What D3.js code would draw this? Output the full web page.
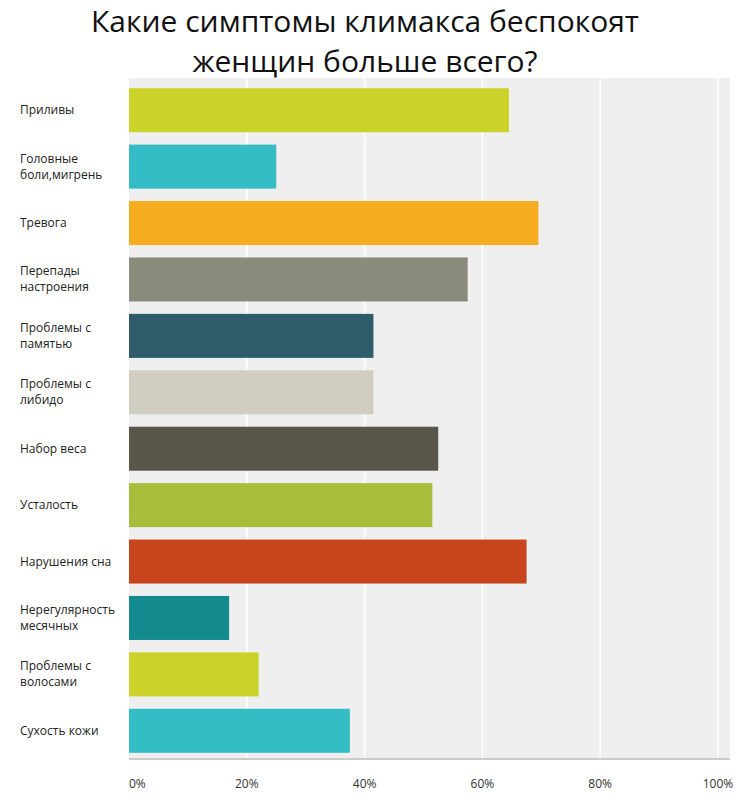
<!DOCTYPE html>
<html><head><meta charset="utf-8">
<script src="https://cdn.jsdelivr.net/npm/d3@7"></script>
<style>body{margin:0;background:#fff}</style></head>
<body><svg id="c" width="750" height="805"></svg>
<script>
const categories = [["Приливы"],["Головные","боли,мигрень"],["Тревога"],["Перепады","настроения"],["Проблемы с","памятью"],["Проблемы с","либидо"],["Набор веса"],["Усталость"],["Нарушения сна"],["Нерегулярность","месячных"],["Проблемы с","волосами"],["Сухость кожи"]];
const values = [64.5,25,69.5,57.5,41.5,41.5,52.5,51.5,67.5,17,22,37.5];
const colors = ["#cbd32a","#34bdc4","#f6ac1f","#8b8b7b","#2e5c6b","#d0cec0","#58574a","#a8bd3a","#c8441d","#128a8e","#cbd32a","#34bdc4"];
const ticks = [0,20,40,60,80,100];
const title = ["Какие симптомы климакса беспокоят","женщин больше всего?"];

const svg = d3.select("#c");
const L=129, R=718, T=82, B=759;
svg.append("rect").attr("x",L).attr("y",T-4).attr("width",R-L+12).attr("height",B-T+4).attr("fill","#efefef");
const x = d3.scaleLinear().domain([0,100]).range([L,R]);
const y = d3.scaleBand().domain(d3.range(values.length)).range([T,B]).paddingInner(0.22).paddingOuter(0.11);
svg.selectAll(".g").data(ticks.slice(1)).join("line").attr("x1",d=>x(d)).attr("x2",d=>x(d)).attr("y1",T-4).attr("y2",B).attr("stroke","#fff").attr("stroke-width",1.5);
svg.append("line").attr("x1",L).attr("x2",R+12).attr("y1",B).attr("y2",B).attr("stroke","#ccc").attr("stroke-width",2);
svg.selectAll(".b").data(values).join("rect").attr("x",L).attr("y",(d,i)=>y(i)).attr("height",y.bandwidth()).attr("width",d=>x(d)-L).attr("fill",(d,i)=>colors[i]);
const lab = svg.selectAll(".l").data(categories).join("text").attr("font-family","Open Sans, sans-serif").attr("font-size",12).attr("fill","#222");
lab.each(function(d,i){const t=d3.select(this);const cy=y(i)+y.bandwidth()/2;
 d.forEach((s,j)=>t.append("tspan").attr("x",20).attr("y",cy+4+(j-(d.length-1)/2)*16).text(s));});
svg.selectAll(".t").data(ticks).join("text").attr("x",d=>x(d)).attr("y",788).attr("text-anchor",d=>d===0?"start":"middle").attr("font-family","Open Sans, sans-serif").attr("font-size",12).attr("fill","#333").text(d=>d+"%");
svg.selectAll(".tt").data(title).join("text").attr("x",365).attr("y",(d,i)=>32+i*40).attr("text-anchor","middle").attr("font-family","Open Sans, sans-serif").attr("font-size",30).attr("fill","#111").text(d=>d);
</script></body></html>
